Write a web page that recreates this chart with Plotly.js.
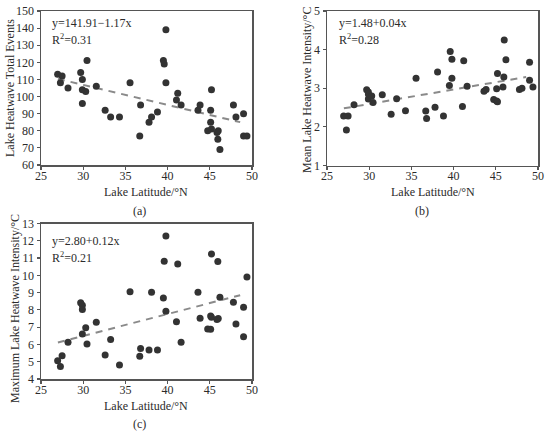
<!DOCTYPE html>
<html>
<head>
<meta charset="utf-8">
<script src="https://cdn.plot.ly/plotly-3.0.1.min.js"></script>
<style>
  body { margin: 0; background: #fff; }
  #chart { width: 550px; height: 434px; }
</style>
</head>
<body>
<div id="chart"></div>
<script>
// lake latitude (°N), shared by the three panels
var lat = [26.97, 27.3, 27.5, 28.2, 29.7, 29.9, 29.9, 29.9, 30.3, 30.45,
           31.55, 32.6, 33.25, 34.3, 35.55, 36.7, 36.8, 37.8, 38.1, 38.8,
           39.5, 39.6, 39.8, 39.8, 41.05, 41.2, 41.6, 43.6, 43.85, 44.75,
           45.1, 45.1, 45.2, 45.2, 45.85, 45.95, 46.0, 46.2, 47.8, 48.1,
           49.0, 49.0, 49.4];

// (a) total events
var totalEvents = [113, 108, 112, 105, 114, 110, 104, 96, 103, 121,
                   106, 92, 88, 88, 108, 77, 95, 85, 88, 91,
                   121, 119, 139, 108, 98, 102, 95, 92, 95, 80,
                   92, 85, 104, 81, 79, 75, 80, 69, 95, 88,
                   90, 77, 77];

// (b) mean intensity
var meanIntensity = [2.28, 1.92, 2.28, 2.57, 2.96, 2.90, 2.72, 2.85, 2.80, 2.63,
                     2.83, 2.33, 2.73, 2.42, 3.26, 2.41, 2.22, 2.51, 3.42, 2.28,
                     3.07, 3.95, 3.75, 3.26, 2.53, 3.71, 3.05, 2.92, 2.97, 2.71,
                     2.67, 2.99, 3.38, 2.65, 3.03, 3.29, 4.25, 3.74, 2.97, 3.00,
                     3.67, 3.21, 3.03];

// (c) maximum intensity
var maxIntensity = [5.06, 4.73, 5.35, 6.12, 8.41, 8.27, 8.02, 6.60, 6.97, 6.03,
                    7.28, 5.39, 6.29, 4.81, 9.05, 5.32, 5.77, 5.68, 9.02, 5.68,
                    8.69, 10.82, 12.28, 7.92, 7.31, 10.66, 6.12, 9.02, 7.51, 6.89,
                    6.88, 7.65, 11.24, 7.58, 7.45, 10.80, 7.50, 8.73, 8.44, 7.19,
                    8.15, 6.45, 9.90];

// fitted lines [intercept, slope] and x extent
var fitA = [141.91, -1.17];
var fitB = [1.465, 0.0376];
var fitC = [2.70, 0.1265];
var fitRange = [27, 48.6];

var eqA = ['y=141.91\u22121.17x', 'R<sup>2</sup>=0.31'];
var eqB = ['y=1.48+0.04x', 'R<sup>2</sup>=0.28'];
var eqC = ['y=2.80+0.12x', 'R<sup>2</sup>=0.21'];

var xTitleText = 'Lake Latitude/\u00b0N';
var yTitles = ['Lake Heatwave Total Events',
               'Mean Lake Heatwave Intensity/\u00b0C',
               'Maximum Lake Heatwave Intensity/\u00b0C'];

var serif = 'Liberation Serif, Times New Roman, serif';
var ink = '#2b2b2b';

function fitLine(fit, xa, ya) {
  return {
    x: fitRange,
    y: fitRange.map(function (v) { return fit[0] + fit[1] * v; }),
    xaxis: xa, yaxis: ya,
    type: 'scatter', mode: 'lines',
    line: {color: '#8a8a8a', width: 2, dash: '7px,6px'},
    hoverinfo: 'skip'
  };
}

function dots(y, xa, ya) {
  return {
    x: lat, y: y, xaxis: xa, yaxis: ya,
    type: 'scatter', mode: 'markers',
    marker: {size: 7, color: '#333333'}
  };
}

var data = [
  fitLine(fitA, 'x', 'y'), dots(totalEvents, 'x', 'y'),
  fitLine(fitB, 'x2', 'y2'), dots(meanIntensity, 'x2', 'y2'),
  fitLine(fitC, 'x3', 'y3'), dots(maxIntensity, 'x3', 'y3')
];

// axis template
var axis = {
  showline: true, mirror: true, linecolor: '#555', linewidth: 1.5,
  showgrid: false, zeroline: false,
  ticks: 'outside', ticklen: 3, tickwidth: 1.2, tickcolor: '#555',
  tickfont: {family: serif, size: 12, color: ink}
};
function ax(extra) {
  var a = JSON.parse(JSON.stringify(axis));
  for (var k in extra) a[k] = extra[k];
  return a;
}

function px(v) { return v / 550; }
function py(v) { return 1 - v / 434; }

var annotations = [];
function label(text, x, y, anchor, angle) {
  annotations.push({
    text: text, x: px(x), y: py(y), xref: 'paper', yref: 'paper',
    xanchor: anchor || 'left', yanchor: 'middle', showarrow: false,
    textangle: angle || 0,
    font: {family: serif, size: 12, color: ink}
  });
}
label(eqA[0], 50, 23); label(eqA[1], 50, 39);
label(eqB[0], 337, 23); label(eqB[1], 337, 39);
label(eqC[0], 50, 241); label(eqC[1], 50, 257);
label(xTitleText, 146, 192, 'center');
label(xTitleText, 433, 192, 'center');
label(xTitleText, 146, 406, 'center');
label(yTitles[0], 10, 88, 'center', -90);
label(yTitles[1], 307, 90, 'center', -90);
label(yTitles[2], 15, 309, 'center', -90);
label('(a)', 139, 211, 'center');
label('(b)', 422, 211, 'center');
label('(c)', 139, 424, 'center');

var layout = {
  width: 550, height: 434,
  margin: {l: 0, r: 0, t: 0, b: 0},
  paper_bgcolor: '#fff', plot_bgcolor: '#fff',
  showlegend: false,
  font: {family: serif, size: 12, color: ink},
  xaxis: ax({domain: [px(41), px(252)], range: [25, 50], dtick: 5, anchor: 'y', ticklabelstandoff: -4}),
  yaxis: ax({domain: [py(165), py(11)], range: [60, 150], dtick: 10, anchor: 'x'}),
  xaxis2: ax({domain: [px(327), px(538)], range: [25, 50], dtick: 5, anchor: 'y2', ticklabelstandoff: -4}),
  yaxis2: ax({domain: [py(165.5), py(11)], range: [1, 5], dtick: 1, anchor: 'x2'}),
  xaxis3: ax({domain: [px(41), px(252)], range: [25, 50], dtick: 5, anchor: 'y3', ticklabelstandoff: -4}),
  yaxis3: ax({domain: [py(379), py(223.5)], range: [4, 13], dtick: 1, anchor: 'x3'}),
  annotations: annotations
};

Plotly.newPlot('chart', data, layout, {displayModeBar: false, staticPlot: true});
</script>
</body>
</html>
